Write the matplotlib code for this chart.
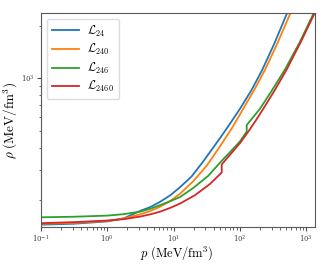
import matplotlib
matplotlib.use("Agg")
import matplotlib.pyplot as plt
from matplotlib.ticker import NullFormatter

plt.rcParams['mathtext.fontset'] = 'cm'
plt.rcParams['font.family'] = 'serif'
plt.rcParams['font.serif'] = ['DejaVu Serif']

# pressure p (MeV/fm^3) and energy density rho (MeV/fm^3)
p_24 = [0.1, 0.316, 1.0, 1.78, 3.11, 4.47, 6.24, 8.91, 12.5, 18.6, 28.1, 50.1,
        70.8, 100.3, 147.9, 215, 331, 508, 708]
rho_24 = [145.0, 146.9, 151.4, 157.8, 173.8, 183.2, 196.0, 213.8, 237.9, 273.5,
          335.0, 454.3, 549.5, 669.6, 851.1, 1109, 1585, 2339, 3090]

p_240 = [0.1, 0.316, 1.0, 1.78, 3.11, 4.47, 6.24, 8.91, 12.5, 19.95, 31.6, 50.1,
         75.9, 112.2, 166.0, 239.9, 371.5, 570, 776]
rho_240 = [146.9, 148.6, 152.3, 157.4, 166.3, 173.8, 183.7, 198.6, 218.2, 258.2,
           316.2, 408.3, 518.8, 669.9, 865.0, 1122, 1603, 2339, 3020]

p_246 = [0.1, 0.316, 1.0, 1.78, 3.11, 4.47, 6.24, 8.91, 12.5, 19.95, 33.4, 50.1,
         70.8, 100.3, 126.6, 126.6, 158.5, 201, 309, 478.6, 794, 1279, 1413]
rho_246 = [159.9, 161.1, 163.5, 166.7, 172.2, 179.1, 187.7, 197.7, 209.0, 236.0,
           276.7, 328.9, 377.6, 435.5, 495.5, 539.5, 599.8, 669.9, 861.0, 1125,
           1603, 2339, 2512]

p_2460 = [0.1, 0.316, 1.0, 1.78, 3.11, 4.47, 6.24, 8.91, 12.5, 20.9, 35.4, 53.2,
          53.2, 72.4, 100.3, 133.9, 173.8, 225.4, 338.8, 508, 832, 1357]
rho_2460 = [148.0, 150.0, 153.2, 156.0, 161.4, 166.3, 172.2, 181.1, 191.7, 213.8,
            248.3, 288.9, 321.6, 368.1, 425.6, 495.5, 574.1, 669.9, 861.0, 1125,
            1622, 2388]

curves = [
    (p_24, rho_24, r'$\mathcal{L}_{24}$', '#1f77b4'),
    (p_240, rho_240, r'$\mathcal{L}_{240}$', '#ff7f0e'),
    (p_246, rho_246, r'$\mathcal{L}_{246}$', '#2ca02c'),
    (p_2460, rho_2460, r'$\mathcal{L}_{2460}$', '#d62728'),
]

fig = plt.figure(figsize=(3.36, 2.65), dpi=100)
ax = fig.add_axes([0.122, 0.142, 0.8155, 0.809])

for p, rho, lab, col in curves:
    ax.plot(p, rho, color=col, lw=1.3, label=lab)

ax.set_xscale('log')
ax.set_yscale('log')
ax.set_xlim(0.1, 1357)
ax.set_ylim(140, 2370)
ax.yaxis.set_minor_formatter(NullFormatter())

ax.set_xlabel(r'$p\ (\mathrm{MeV/fm^3})$', fontsize=9)
ax.set_ylabel(r'$\rho\ (\mathrm{MeV/fm^3})$', fontsize=9.5)
ax.xaxis.set_label_coords(0.496, -0.08)
ax.yaxis.set_label_coords(-0.078, 0.5)
ax.tick_params(which='both', labelsize=5, color='0.3', pad=1.2, labelcolor='0.25')
ax.tick_params(which='major', length=3)
ax.tick_params(which='minor', length=1.8)
for s in ax.spines.values():
    s.set_color('0.35')

ax.legend(loc='upper left', fontsize=8.5, handlelength=2.3, labelspacing=0.3,
          borderpad=0.4, handletextpad=0.7, framealpha=0.9, edgecolor='0.85')

fig.savefig('out.png', dpi=100)
